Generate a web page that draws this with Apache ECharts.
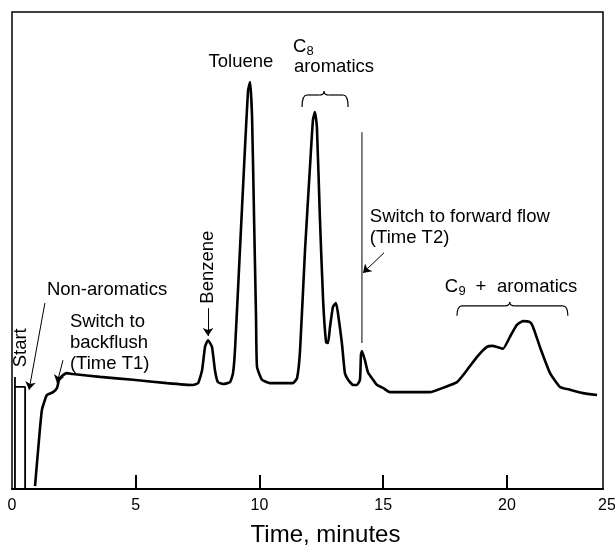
<!DOCTYPE html>
<html>
<head>
<meta charset="UTF-8">
<title>Chromatogram - backflush</title>
<script type="text/javascript" src="https://cdn.jsdelivr.net/npm/echarts/dist/echarts.min.js"></script>
<style>
  html, body { margin: 0; padding: 0; background: #fff; }
</style>
</head>
<body>
<div id="main" style="width: 615px; height: 552px;"></div>
<script type="text/javascript">
// detector trace (time in minutes, response in % of full scale)
var timeMin = [0.93, 1.09, 1.21, 1.41, 1.66, 1.82, 1.90, 2.02, 2.22, 2.46, 3.56, 4.89, 6.26, 7.31, 7.52, 7.68, 7.80, 7.92, 8.08, 8.20, 8.32, 8.53, 8.81, 8.93, 9.01, 9.21, 9.41, 9.54, 9.62, 9.70, 9.78, 9.86, 9.90, 10.10, 10.42, 11.35, 11.52, 11.64, 11.84, 12.04, 12.16, 12.24, 12.32, 12.44, 12.57, 12.69, 12.77, 12.85, 12.97, 13.09, 13.17, 13.33, 13.45, 13.58, 13.78, 13.94, 14.06, 14.10, 14.14, 14.26, 14.38, 14.59, 14.75, 14.99, 15.27, 16.89, 17.41, 17.98, 18.38, 18.79, 19.19, 19.43, 19.84, 20.12, 20.40, 20.65, 20.93, 21.05, 21.33, 21.74, 22.14, 22.55, 23.07, 23.64];
var signal = [0.6, 10.3, 16.6, 19.7, 20.3, 21.2, 22.9, 23.7, 24.3, 24.1, 23.5, 22.9, 22.2, 21.8, 22.2, 24.9, 29.8, 31.2, 29.8, 24.9, 22.4, 22.0, 22.4, 24.3, 29.1, 50.1, 71.1, 83.6, 85.3, 78.0, 57.0, 36.1, 25.6, 22.9, 22.2, 22.2, 23.3, 29.1, 50.1, 67.5, 77.4, 79.0, 75.9, 57.0, 39.6, 30.8, 30.6, 34.0, 38.2, 39.0, 36.9, 30.6, 24.3, 22.9, 21.8, 21.8, 22.9, 28.1, 28.9, 27.0, 24.5, 22.9, 21.8, 21.2, 20.3, 20.3, 21.2, 22.4, 24.9, 27.7, 29.8, 30.0, 29.4, 31.9, 34.4, 35.2, 35.0, 34.0, 29.8, 24.3, 21.4, 20.8, 20.1, 19.7];

// start pulse drawn by the recorder
var startTime = [0.12, 0.12, 0.12, 0.53, 0.53, 0.93];
var startSignal = [0, 23.5, 21.4, 21.4, 0, 0];

// thin line marking the switch back to forward flow
var t2Time = [14.14, 14.14];
var t2Signal = [30.6, 74.8];

// axis: the frame stops just short of 25 on the original
var xMax = 23.88;
var xTickValues = [0, 5, 10, 15, 20, 23.88];
var xTickLabels = ['0', '5', '10', '15', '20', '25'];

function pairs(xs, ys) {
    var out = [];
    for (var i = 0; i < xs.length; i++) out.push([xs[i], ys[i]]);
    return out;
}

var fontFam = '"Liberation Sans", Arial, Helvetica, sans-serif';
var myChart = echarts.init(document.getElementById('main'));

myChart.setOption({
    animation: false,
    backgroundColor: '#fff',
    grid: {
        left: 12, right: 12, top: 12, bottom: 63,
        outerBoundsMode: 'none',
        show: true, borderColor: '#000', borderWidth: 1.5
    },
    xAxis: {
        type: 'value',
        min: 0, max: xMax,
        name: 'Time, minutes',
        nameLocation: 'middle',
        nameGap: 34,
        nameTextStyle: { fontFamily: fontFam, fontSize: 24, color: '#000', padding: [0, 0, 0, 36] },
        axisLine: { lineStyle: { color: '#000', width: 2 } },
        axisTick: { inside: true, length: 14, customValues: [5, 10, 15, 20], lineStyle: { color: '#000', width: 2 } },
        axisLabel: {
            customValues: xTickValues,
            margin: 9,
            fontFamily: fontFam, fontSize: 16, color: '#000',
            formatter: function (v) {
                var k = 0;
                for (var i = 0; i < xTickValues.length; i++) {
                    if (Math.abs(xTickValues[i] - v) < Math.abs(xTickValues[k] - v)) k = i;
                }
                return k === xTickValues.length - 1 ? '{r|' + xTickLabels[k] + '}' : xTickLabels[k];
            },
            rich: { r: { fontFamily: fontFam, fontSize: 16, color: '#000', padding: [0, 0, 0, 8] } }
        },
        splitLine: { show: false }
    },
    yAxis: {
        type: 'value',
        min: 0, max: 100,
        axisLine: { show: false },
        axisTick: { show: false },
        axisLabel: { show: false },
        splitLine: { show: false }
    },
    series: [
        {
            name: 'start',
            type: 'line',
            data: pairs(startTime, startSignal),
            showSymbol: false,
            lineStyle: { color: '#000', width: 1.8 }
        },
        {
            name: 'trace',
            type: 'line',
            data: pairs(timeMin, signal),
            showSymbol: false,
            smooth: 0.15,
            lineStyle: { color: '#000', width: 2.6 },
            markLine: {
                silent: true,
                animation: false,
                symbol: ['none', 'arrow'],
                symbolSize: 8,
                label: { show: false },
                lineStyle: { color: '#000', width: 1, type: 'solid' },
                emphasis: { disabled: true },
                data: [
                    [{ coord: [1.33, 39.0] }, { coord: [0.69, 20.8] }],
                    [{ coord: [2.06, 27.0] }, { coord: [1.82, 22.2] }],
                    [{ coord: [7.92, 37.9] }, { coord: [7.92, 32.1] }],
                    [{ coord: [15.03, 49.5] }, { coord: [14.18, 45.3] }]
                ]
            }
        },
        {
            name: 'T2',
            type: 'line',
            data: pairs(t2Time, t2Signal),
            showSymbol: false,
            lineStyle: { color: '#000', width: 1 }
        }
    ]
});

// annotations, anchored in data coordinates
function px(t, s) { return myChart.convertToPixel({ gridIndex: 0 }, [t, s]); }

var notes = [
    { text: 'Start', at: [0.36, 29.6], rotate: true },
    { text: 'Non-aromatics', at: [1.41, 41.7], align: 'left' },
    { text: 'Switch to\nbackflush\n(Time T1)', at: [2.34, 30.6], align: 'left' },
    { text: 'Benzene', at: [7.92, 46.5], rotate: true },
    { text: 'Toluene', at: [9.25, 89.5] },
    { text: 'C', at: [11.35, 92.7], align: 'left' },
    { text: '8', at: [11.90, 91.7], align: 'left', small: true },
    { text: 'aromatics', at: [11.39, 88.5], align: 'left' },
    { text: 'Switch to forward flow\n(Time T2)', at: [14.46, 54.9], align: 'left' },
    { text: 'C', at: [17.49, 42.3], align: 'left' },
    { text: '9', at: [18.04, 41.4], align: 'left', small: true },
    { text: '+', at: [18.95, 42.3] },
    { text: 'aromatics', at: [19.60, 42.3], align: 'left' }
];

var graphics = [];
notes.forEach(function (n) {
    var p = px(n.at[0], n.at[1]);
    graphics.push({
        type: 'text',
        x: p[0], y: p[1],
        rotation: n.rotate ? Math.PI / 2 : 0,
        silent: true,
        style: {
            text: n.text,
            fontFamily: fontFam,
            fontSize: n.small ? 13 : 18.5,
            lineHeight: 21,
            fill: '#000',
            align: n.align || 'center',
            verticalAlign: 'middle'
        }
    });
});

// curly braces over the C8 and C9 groups
function brace(t1, t2, tMid, sTop, sEnd, sTip) {
    var a = px(t1, sEnd), b = px(t2, sEnd);
    var yTop = px(t1, sTop)[1], yTip = px(t1, sTip)[1];
    var cx = px(tMid, sTop)[0];
    var r = 5;
    var st = { stroke: '#000', lineWidth: 1.2, fill: null };
    return [
        { type: 'bezierCurve', silent: true, shape: { x1: a[0], y1: a[1], x2: a[0] + r, y2: yTop, cpx1: a[0], cpy1: yTop }, style: st },
        { type: 'line', silent: true, shape: { x1: a[0] + r, y1: yTop, x2: cx - r, y2: yTop }, style: st },
        { type: 'bezierCurve', silent: true, shape: { x1: cx - r, y1: yTop, x2: cx, y2: yTip, cpx1: cx, cpy1: yTop }, style: st },
        { type: 'bezierCurve', silent: true, shape: { x1: cx, y1: yTip, x2: cx + r, y2: yTop, cpx1: cx, cpy1: yTop }, style: st },
        { type: 'line', silent: true, shape: { x1: cx + r, y1: yTop, x2: b[0] - r, y2: yTop }, style: st },
        { type: 'bezierCurve', silent: true, shape: { x1: b[0] - r, y1: yTop, x2: b[0], y2: b[1], cpx1: b[0], cpy1: yTop }, style: st }
    ];
}
graphics = graphics.concat(brace(11.72, 13.58, 12.61, 82.6, 80.1, 83.4));
graphics = graphics.concat(brace(17.98, 22.46, 20.11, 38.4, 36.3, 39.2));

myChart.setOption({ graphic: graphics });
</script>
</body>
</html>
